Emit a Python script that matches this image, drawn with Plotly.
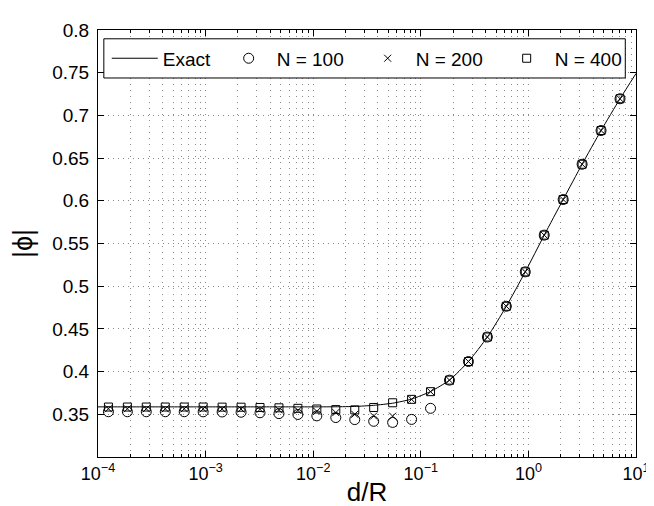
import plotly.graph_objects as go

# ---- data ----
d_over_R = [1.25e-4, 1.875e-4, 2.81e-4, 4.22e-4, 6.33e-4, 9.49e-4, 1.424e-3, 2.136e-3,
            3.204e-3, 4.806e-3, 7.208e-3, 1.081e-2, 1.622e-2, 2.433e-2, 3.649e-2, 5.474e-2,
            8.211e-2, 0.1232, 0.1847, 0.2771, 0.4157, 0.6235, 0.9352, 1.403, 2.104, 3.156,
            4.735, 7.102]

phi_n100 = [0.3530, 0.3530, 0.3530, 0.3530, 0.3530, 0.3529, 0.3527, 0.3524, 0.3518, 0.3508,
            0.3498, 0.3482, 0.3462, 0.3438, 0.3418, 0.3405, 0.3440, 0.3570, 0.3900, 0.4118,
            0.4405, 0.4765, 0.5168, 0.5598, 0.6015, 0.6428, 0.6823, 0.7195]

phi_n200 = [0.3565, 0.3565, 0.3565, 0.3565, 0.3565, 0.3564, 0.3563, 0.3561, 0.3558, 0.3553,
            0.3545, 0.3535, 0.3520, 0.3500, 0.3480, 0.3478, 0.3675, 0.3765, 0.3900, 0.4118,
            0.4405, 0.4765, 0.5168, 0.5598, 0.6015, 0.6428, 0.6823, 0.7195]

phi_n400 = [0.3585, 0.3585, 0.3585, 0.3585, 0.3585, 0.3585, 0.3584, 0.3583, 0.3580, 0.3576,
            0.3570, 0.3562, 0.3555, 0.3552, 0.3580, 0.3635, 0.3675, 0.3765, 0.3900, 0.4118,
            0.4405, 0.4765, 0.5168, 0.5598, 0.6015, 0.6428, 0.6823, 0.7195]

exact_x = [1e-4, 1.25e-4, 1.875e-4, 2.81e-4, 4.22e-4, 6.33e-4, 9.49e-4, 1.424e-3, 2.136e-3,
           3.204e-3, 4.806e-3, 7.208e-3, 1.081e-2, 1.622e-2, 2.433e-2, 3.649e-2, 5.474e-2,
           8.211e-2, 0.1232, 0.1847, 0.2771, 0.4157, 0.6235, 0.9352, 1.403, 2.104, 3.156,
           4.735, 7.102, 10.0]
exact_y = [0.3587, 0.3587, 0.3587, 0.3587, 0.3587, 0.3587, 0.3587, 0.3587, 0.3587,
           0.3587, 0.3587, 0.3587, 0.3587, 0.3588, 0.3592, 0.3605, 0.3630,
           0.3678, 0.3767, 0.3900, 0.4118, 0.4405, 0.4765, 0.5168, 0.5598, 0.6015, 0.6428,
           0.6823, 0.7195, 0.7490]

x_tickvals = [1e-4, 1e-3, 1e-2, 1e-1, 1e0, 1e1]
x_ticktext = ["10<sup>\u22124</sup>", "10<sup>\u22123</sup>", "10<sup>\u22122</sup>",
              "10<sup>\u22121</sup>", "10<sup>0</sup>", "10<sup>1</sup>"]
y_tickvals = [0.35, 0.4, 0.45, 0.5, 0.55, 0.6, 0.65, 0.7, 0.75, 0.8]
y_ticktext = ["0.35", "0.4", "0.45", "0.5", "0.55", "0.6", "0.65", "0.7", "0.75", "0.8"]

FONT = "Liberation Sans, Arial, Helvetica, sans-serif"

fig = go.Figure()
fig.add_trace(go.Scatter(x=exact_x, y=exact_y, mode="lines", name="Exact", legend="legend",
                         showlegend=True,
                         line=dict(color="black", width=1, shape="spline", smoothing=0.6)))
fig.add_trace(go.Scatter(x=d_over_R, y=phi_n100, mode="markers", name="N = 100", legend="legend2",
                         showlegend=True,
                         marker=dict(symbol="circle-open", size=10, color="black",
                                     line=dict(width=1, color="black"))))
fig.add_trace(go.Scatter(x=d_over_R, y=phi_n200, mode="markers", name="N = 200", legend="legend2",
                         showlegend=True,
                         marker=dict(symbol="x-thin-open", size=7, color="black",
                                     line=dict(width=1, color="black"))))
fig.add_trace(go.Scatter(x=d_over_R, y=phi_n400, mode="markers", name="N = 400", legend="legend2",
                         showlegend=True,
                         marker=dict(symbol="square-open", size=8, color="black",
                                     line=dict(width=1, color="black"))))

grid_color = "#8a8a8a"
legend_common = dict(orientation="h", yanchor="middle", y=0.9335, xanchor="left",
                     borderwidth=0, bgcolor="rgba(0,0,0,0)", itemwidth=46, visible=True,
                     font=dict(size=19, family=FONT))
fig.update_layout(
    width=654, height=506,
    margin=dict(l=88, r=13, t=15, b=55),
    plot_bgcolor="white", paper_bgcolor="white",
    font=dict(family=FONT, size=19, color="black"),
    showlegend=True,
    legend=dict(x=0.0163, **legend_common),
    legend2=dict(x=0.228, entrywidth=78, entrywidthmode="pixels", **legend_common),
    shapes=[dict(type="rect", xref="paper", yref="paper", x0=0.01085, x1=0.9801,
                 y0=0.8876, y1=0.9794, line=dict(color="black", width=1),
                 fillcolor="white", layer="above")],
    xaxis=dict(type="log", range=[-4, 1], tickmode="array", tickvals=x_tickvals,
               ticktext=x_ticktext, ticks="inside", ticklen=6, tickcolor="black",
               tickfont=dict(size=18, family=FONT),
               showline=True, linecolor="black", linewidth=1, mirror="allticks",
               showgrid=True, gridcolor=grid_color, griddash="1px,5px", gridwidth=1,
               zeroline=False, ticklabeloverflow="allow",
               minor=dict(dtick="D1", ticks="inside", ticklen=3, tickcolor="black",
                          showgrid=True, gridcolor=grid_color, griddash="1px,5px", gridwidth=1),
               title=dict(text="d/R", font=dict(size=26, family=FONT), standoff=0)),
    yaxis=dict(range=[0.3, 0.8], tickmode="array", tickvals=y_tickvals, ticktext=y_ticktext,
               ticks="inside", ticklen=6, tickcolor="black",
               showline=True, linecolor="black", linewidth=1, mirror="allticks",
               showgrid=True, gridcolor=grid_color, griddash="1px,4px", gridwidth=1,
               zeroline=False, ticklabelstandoff=4, ticklabeloverflow="allow",
               title=dict(text="|\u03d5|", font=dict(size=27, family=FONT), standoff=13)),
)

fig.write_html("out.html")
